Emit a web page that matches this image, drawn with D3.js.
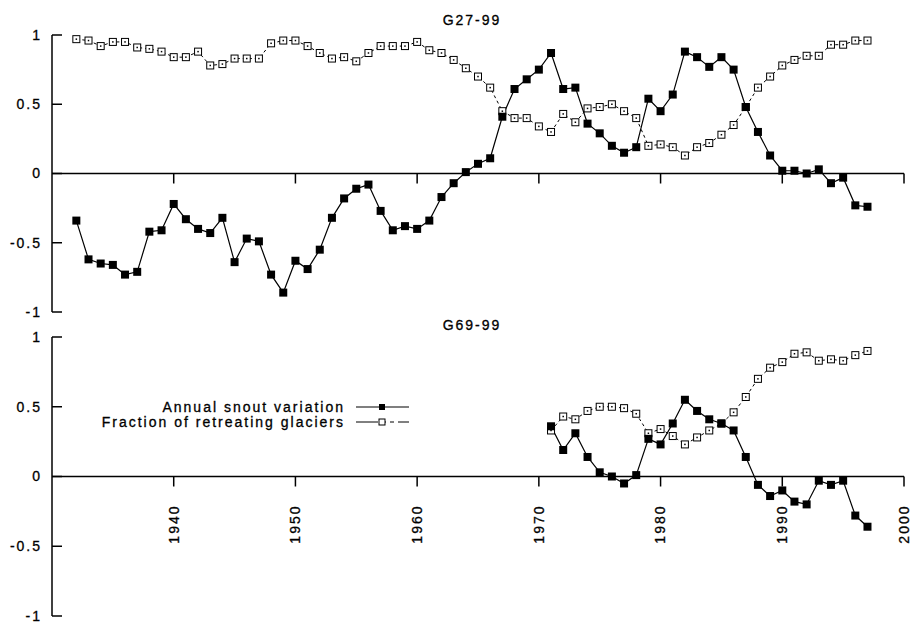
<!DOCTYPE html>
<html>
<head>
<meta charset="utf-8">
<script src="https://cdn.jsdelivr.net/npm/d3@7"></script>
<style>
  html, body { margin: 0; padding: 0; background: #fff; }
  svg { display: block; }
  text { font-family: "Liberation Sans", Arial, sans-serif; font-size: 14px; letter-spacing: 2px; fill: #000; stroke: #000; stroke-width: 0.3px; }
</style>
</head>
<body>
<svg id="chart" width="912" height="625"></svg>
<script>
// ---- data ----
const yearsTop = d3.range(1932, 1998);
const snoutTop = [-0.34,-0.62,-0.65,-0.66,-0.73,-0.71,-0.42,-0.41,-0.22,-0.33,-0.40,-0.43,-0.32,-0.64,-0.47,-0.49,
  -0.73,-0.86,-0.63,-0.69,-0.55,-0.32,-0.18,-0.11,-0.08,-0.27,-0.41,-0.38,-0.40,-0.34,-0.17,-0.07,0.01,0.07,0.11,
  0.41,0.61,0.68,0.75,0.87,0.61,0.62,0.36,0.29,0.20,0.15,0.19,0.54,0.45,0.57,0.88,0.84,0.77,0.84,0.75,0.48,0.30,
  0.13,0.02,0.02,0.00,0.03,-0.07,-0.03,-0.23,-0.24];
const fracTop = [0.97,0.96,0.92,0.95,0.95,0.91,0.90,0.88,0.84,0.84,0.88,0.78,0.79,0.83,0.83,0.83,0.94,0.96,0.96,
  0.92,0.87,0.83,0.84,0.81,0.87,0.92,0.92,0.92,0.95,0.89,0.87,0.82,0.76,0.70,0.62,0.45,0.40,0.40,0.34,0.30,0.43,
  0.37,0.47,0.48,0.50,0.45,0.40,0.20,0.21,0.19,0.13,0.19,0.22,0.28,0.35,0.48,0.62,0.70,0.78,0.82,0.85,0.85,0.93,
  0.93,0.96,0.96];
const yearsBottom = d3.range(1971, 1998);
const snoutBottom = [0.36,0.19,0.31,0.14,0.03,0.00,-0.05,0.01,0.27,0.23,0.38,0.55,0.47,0.41,0.38,0.33,0.14,-0.06,
  -0.14,-0.10,-0.18,-0.20,-0.03,-0.06,-0.03,-0.28,-0.36];
const fracBottom = [0.33,0.43,0.41,0.47,0.50,0.50,0.49,0.45,0.31,0.34,0.29,0.23,0.28,0.33,0.38,0.46,0.57,0.70,
  0.78,0.82,0.88,0.89,0.83,0.84,0.83,0.87,0.90];
const titles = ["G27-99", "G69-99"];
const yTicks = [-1, -0.5, 0, 0.5, 1];
const xTicks = [1940, 1950, 1960, 1970, 1980, 1990, 2000];
const yTickLabels = ["-1", "-0.5", "0", "0.5", "1"];
const legendLabels = ["Annual snout variation", "Fraction of retreating glaciers"];

// ---- layout ----
const svg = d3.select("#chart");
const x = d3.scaleLinear().domain([1930, 2000]).range([52, 904]);
const panels = [
  { title: titles[0], years: yearsTop, snout: snoutTop, frac: fracTop, y: d3.scaleLinear().domain([-1, 1]).range([312, 35]), titleY: 25, labels: false },
  { title: titles[1], years: yearsBottom, snout: snoutBottom, frac: fracBottom, y: d3.scaleLinear().domain([-1, 1]).range([616, 337]), titleY: 330, labels: true }
];

function drawOpen(g, cx, cy) {
  g.append("rect").attr("x", cx - 3.5).attr("y", cy - 3.5).attr("width", 7).attr("height", 7)
    .attr("fill", "#fff").attr("stroke", "#000").attr("stroke-width", 1);
  g.append("rect").attr("x", cx - 0.75).attr("y", cy - 0.75).attr("width", 1.5).attr("height", 1.5).attr("fill", "#000");
}
function drawFilled(g, cx, cy) {
  g.append("rect").attr("x", cx - 4).attr("y", cy - 4).attr("width", 8).attr("height", 8).attr("fill", "#000");
}

panels.forEach(p => {
  const g = svg.append("g");
  const y = p.y;
  // title
  g.append("text").attr("x", 472).attr("y", p.titleY).attr("text-anchor", "middle").text(p.title);
  // y axis
  g.append("line").attr("x1", x(1930)).attr("x2", x(1930)).attr("y1", y(-1)).attr("y2", y(1))
    .attr("stroke", "#000").attr("stroke-width", 1.5);
  yTicks.forEach((t, i) => {
    g.append("line").attr("x1", x(1930)).attr("x2", x(1930) + 10).attr("y1", y(t)).attr("y2", y(t))
      .attr("stroke", "#000").attr("stroke-width", 1.5);
    g.append("text").attr("x", 42).attr("y", y(t)).attr("dy", "0.35em").attr("text-anchor", "end").text(yTickLabels[i]);
  });
  // zero line with ticks
  g.append("line").attr("x1", x(1930)).attr("x2", x(2000)).attr("y1", y(0)).attr("y2", y(0))
    .attr("stroke", "#000").attr("stroke-width", 1.5);
  xTicks.forEach(t => {
    g.append("line").attr("x1", x(t)).attr("x2", x(t)).attr("y1", y(0)).attr("y2", y(0) + 10)
      .attr("stroke", "#000").attr("stroke-width", 1.5);
    if (p.labels) {
      g.append("text").attr("transform", `translate(${x(t)},${y(0) + 28}) rotate(-90)`)
        .attr("dy", "0.35em").attr("text-anchor", "end").text(t);
    }
  });
  // series
  const fracData = p.years.map((yr, i) => [yr, p.frac[i]]);
  const snoutData = p.years.map((yr, i) => [yr, p.snout[i]]);
  const line = d3.line().x(d => x(d[0])).y(d => y(d[1]));
  g.append("path").attr("d", line(fracData)).attr("fill", "none").attr("stroke", "#000")
    .attr("stroke-width", 1).attr("stroke-dasharray", "3,3");
  g.append("path").attr("d", line(snoutData)).attr("fill", "none").attr("stroke", "#000").attr("stroke-width", 1.2);
  const mf = g.append("g");
  fracData.forEach(d => drawOpen(mf, x(d[0]), y(d[1])));
  const ms = g.append("g");
  snoutData.forEach(d => drawFilled(ms, x(d[0]), y(d[1])));

  if (p.labels) {
    // legend
    const lg = g.append("g");
    const rows = [407, 422];
    lg.append("text").attr("x", 345).attr("y", rows[0]).attr("dy", "0.35em").attr("text-anchor", "end").text(legendLabels[0]);
    lg.append("line").attr("x1", 356).attr("x2", 409).attr("y1", rows[0]).attr("y2", rows[0]).attr("stroke", "#000").attr("stroke-width", 1.2);
    lg.append("rect").attr("x", 379).attr("y", rows[0] - 3).attr("width", 6).attr("height", 6).attr("fill", "#000");
    lg.append("text").attr("x", 345).attr("y", rows[1]).attr("dy", "0.35em").attr("text-anchor", "end").text(legendLabels[1]);
    lg.append("line").attr("x1", 356).attr("x2", 409).attr("y1", rows[1]).attr("y2", rows[1]).attr("stroke", "#000")
      .attr("stroke-width", 1).attr("stroke-dasharray", "22,4,4,4,4,4");
    lg.append("rect").attr("x", 379).attr("y", rows[1] - 3).attr("width", 6).attr("height", 6).attr("fill", "#fff").attr("stroke", "#000");
  }
});
</script>
</body>
</html>
